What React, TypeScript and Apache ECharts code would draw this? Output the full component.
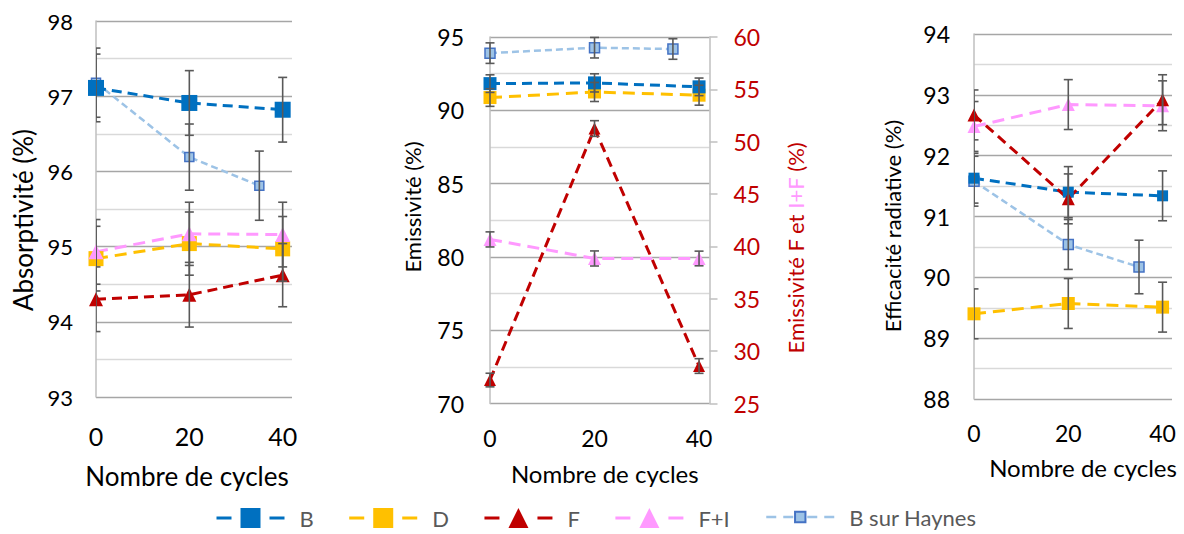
import React, { useEffect, useRef } from "react";
import * as echarts from "echarts";

const FONT = "Lato";

// Abscisses
const cycles = [0, 20, 40];
const cyclesHaynes = [0, 20, 35];
const xTickValues = [0, 20, 40];

// Absorptivité (%)
const absB = [97.11, 96.91, 96.82];
const absBErr = [0.45, 0.43, 0.43];
const absD = [94.84, 95.04, 94.97];
const absDErr = [0.43, 0.42, 0.43];
const absF = [94.3, 94.36, 94.62];
const absFErr = [0.43, 0.43, 0.42];
const absFI = [94.93, 95.17, 95.16];
const absFIErr = [0.43, 0.42, 0.43];
const absH = [97.18, 96.19, 95.81];
const absHErr = [0.46, 0.44, 0.46];

// Emissivité (%) - axe gauche
const emB = [91.82, 91.87, 91.6];
const emBErr = [0.6, 0.62, 0.6];
const emD = [90.87, 91.25, 91.03];
const emDErr = [0.6, 0.65, 0.68];
const emH = [93.9, 94.27, 94.18];
const emHErr = [0.7, 0.7, 0.7];
// Emissivité F et I+F (%) - axe droit
const emF = [27.24, 51.26, 28.58];
const emFErr = [0.65, 0.75, 0.7];
const emFI = [40.67, 38.85, 38.85];
const emFIErr = [0.72, 0.72, 0.7];

// Efficacité radiative (%)
const efB = [91.63, 91.4, 91.34];
const efBErr = [0.41, 0.42, 0.41];
const efD = [89.4, 89.57, 89.51];
const efDErr = [0.41, 0.41, 0.41];
const efF = [92.67, 91.29, 92.92];
const efFErr = [0.41, 0.41, 0.41];
const efFI = [92.48, 92.84, 92.82];
const efFIErr = [0.41, 0.41, 0.41];
const efH = [91.58, 90.54, 90.17];
const efHErr = [0.41, 0.41, 0.44];

const C_B = "#0070C0";
const C_D = "#FFC000";
const C_F = "#C00000";
const C_FI = "#FF99FF";
const C_H = "#9DC3E6";
const C_HB = "#4472C4";
const C_ERR = "#595959";

type Style = {
  symbol: string;
  color: string;
  width: number;
  dash: number[];
  border?: string;
};

const STYLES: Record<string, Style> = {
  B: { symbol: "rect", color: C_B, width: 3, dash: [10, 6] },
  D: { symbol: "rect", color: C_D, width: 3, dash: [12, 7] },
  F: { symbol: "triangle", color: C_F, width: 3, dash: [10, 6] },
  "F+I": { symbol: "triangle", color: C_FI, width: 3, dash: [12, 7] },
  "B sur Haynes": { symbol: "rect", color: C_H, width: 2.5, dash: [7, 4], border: C_HB },
};

function lineSeries(
  name: string,
  xs: number[],
  ys: number[],
  xAxisIndex: number,
  yAxisIndex: number,
  size: number
) {
  const s = STYLES[name];
  return {
    type: "line",
    name,
    xAxisIndex,
    yAxisIndex,
    data: xs.map((x, i) => [x, ys[i]]),
    symbol: s.symbol,
    symbolSize: size,
    showSymbol: true,
    clip: false,
    z: 3,
    lineStyle: { color: s.color, width: s.width, type: s.dash },
    itemStyle: s.border
      ? { color: s.color, borderColor: s.border, borderWidth: 1.5 }
      : { color: s.color },
    emphasis: { disabled: true },
  };
}

function errorSeries(
  xs: number[],
  ys: number[],
  errs: number[],
  xAxisIndex: number,
  yAxisIndex: number,
  clip: boolean
) {
  return {
    type: "custom",
    xAxisIndex,
    yAxisIndex,
    clip,
    z: 5,
    silent: true,
    data: xs.map((x, i) => [x, ys[i] - errs[i], ys[i] + errs[i]]),
    encode: { x: 0, y: [1, 2] },
    renderItem: (params: any, api: any) => {
      const x = api.value(0);
      const lo = api.coord([x, api.value(1)]);
      const hi = api.coord([x, api.value(2)]);
      const w = 4.5;
      const st = { stroke: C_ERR, lineWidth: 1.6 };
      return {
        type: "group",
        children: [
          { type: "line", shape: { x1: lo[0], y1: lo[1], x2: hi[0], y2: hi[1] }, style: st },
          { type: "line", shape: { x1: lo[0] - w, y1: lo[1], x2: lo[0] + w, y2: lo[1] }, style: st },
          { type: "line", shape: { x1: hi[0] - w, y1: hi[1], x2: hi[0] + w, y2: hi[1] }, style: st },
        ],
      };
    },
  };
}

function xAxis(gridIndex: number, fontSize: number, margin: number, nameFont: number, nameGap: number, pad: number[]) {
  return {
    type: "value",
    gridIndex,
    min: 0,
    max: 42,
    interval: 20,
    axisLine: { show: false },
    axisTick: { show: false },
    splitLine: { show: false },
    axisLabel: {
      fontSize,
      color: "#000",
      fontFamily: FONT,
      margin,
      formatter: (v: number) => (xTickValues.includes(v) ? String(v) : ""),
    },
    name: "Nombre de cycles",
    nameLocation: "middle",
    nameGap,
    nameTextStyle: { fontSize: nameFont, color: "#000", fontFamily: FONT, padding: pad },
  };
}

function yAxis(gridIndex: number, min: number, max: number, interval: number, fontSize: number, margin: number) {
  return {
    type: "value",
    gridIndex,
    min,
    max,
    interval,
    position: "left",
    axisLine: { show: true, lineStyle: { color: "#BFBFBF", width: 1.5 } },
    axisTick: { show: false },
    axisLabel: { fontSize, color: "#000", fontFamily: FONT, margin },
    splitLine: { show: true, lineStyle: { color: "#A6A6A6", width: 1.3 } },
    minorTick: { show: false, splitNumber: 2 },
    minorSplitLine: { show: true, lineStyle: { color: "#D9D9D9", width: 1.3 } },
  };
}

function buildOption() {
  return {
    animation: false,
    backgroundColor: "#fff",
    grid: [
      { left: 96, top: 21, width: 196, height: 376, outerBoundsMode: "none" },
      { left: 490, top: 37, width: 219.5, height: 366.5, outerBoundsMode: "none" },
      { left: 974, top: 34, width: 198, height: 365, outerBoundsMode: "none" },
    ],
    xAxis: [
      xAxis(0, 25, 26, 26, 66, [0, 14, 0, 0]),
      xAxis(1, 23, 23, 24, 58, [0, 0, 0, 10]),
      xAxis(2, 23, 22, 24, 56, [0, 0, 0, 20]),
    ],
    yAxis: [
      yAxis(0, 93, 98, 1, 22, 23),
      yAxis(1, 70, 95, 5, 23, 26),
      {
        type: "value",
        gridIndex: 1,
        min: 25,
        max: 60,
        interval: 5,
        position: "right",
        axisLine: { show: true, lineStyle: { color: "#BFBFBF", width: 1.5 } },
        axisTick: { show: true, length: 8, inside: false, lineStyle: { color: "#BFBFBF", width: 1.5 } },
        axisLabel: { fontSize: 23, color: C_F, fontFamily: FONT, margin: 24 },
        splitLine: { show: false },
      },
      yAxis(2, 88, 94, 1, 23, 24),
    ],
    legend: [
      {
        top: 507,
        left: 215,
        padding: 0,
        itemWidth: 68,
        itemHeight: 25,
        itemGap: 34,
        selectedMode: false,
        textStyle: { fontSize: 22, color: "#595959", fontFamily: FONT, padding: [0, 0, 0, 10] },
        lineStyle: { type: [15, 38], width: 3 },
        data: ["B", "D", "F", "F+I"],
      },
      {
        top: 506,
        left: 765,
        padding: 0,
        itemWidth: 68,
        itemHeight: 13,
        selectedMode: false,
        textStyle: { fontSize: 22, color: "#595959", fontFamily: FONT, padding: [0, 0, 0, 10] },
        lineStyle: { type: [10, 7, 10, 14, 10, 7, 10], width: 2.5 },
        data: ["B sur Haynes"],
      },
    ],
    graphic: [
      {
        type: "text",
        x: 23,
        y: 220,
        rotation: Math.PI / 2,
        style: { text: "Absorptivité (%)", fontSize: 26, fontFamily: FONT, fill: "#000", align: "center", verticalAlign: "middle" },
      },
      {
        type: "text",
        x: 412,
        y: 207,
        rotation: Math.PI / 2,
        style: { text: "Emissivité (%)", fontSize: 22, fontFamily: FONT, fill: "#000", align: "center", verticalAlign: "middle" },
      },
      {
        type: "text",
        x: 795,
        y: 248,
        rotation: Math.PI / 2,
        style: {
          text: "{r|Emissivité F et }{p|I+F}{r| (%)}",
          align: "center",
          verticalAlign: "middle",
          rich: {
            r: { fill: C_F, fontSize: 22, fontFamily: FONT },
            p: { fill: C_FI, fontSize: 22, fontFamily: FONT },
          },
        },
      },
      {
        type: "text",
        x: 892,
        y: 226,
        rotation: Math.PI / 2,
        style: { text: "Efficacité radiative (%)", fontSize: 22, fontFamily: FONT, fill: "#000", align: "center", verticalAlign: "middle" },
      },
    ],
    series: [
      // Panneau 1 : absorptivité
      lineSeries("B sur Haynes", cyclesHaynes, absH, 0, 0, 9),
      lineSeries("F", cycles, absF, 0, 0, 14),
      lineSeries("D", cycles, absD, 0, 0, 15),
      lineSeries("F+I", cycles, absFI, 0, 0, 15),
      lineSeries("B", cycles, absB, 0, 0, 16),
      errorSeries(cyclesHaynes, absH, absHErr, 0, 0, true),
      errorSeries(cycles, absF, absFErr, 0, 0, true),
      errorSeries(cycles, absD, absDErr, 0, 0, true),
      errorSeries(cycles, absFI, absFIErr, 0, 0, true),
      errorSeries(cycles, absB, absBErr, 0, 0, true),
      // Panneau 2 : émissivité
      lineSeries("B sur Haynes", cyclesHaynes, emH, 1, 1, 10),
      lineSeries("D", cycles, emD, 1, 1, 13),
      lineSeries("B", cycles, emB, 1, 1, 13),
      lineSeries("F", cycles, emF, 1, 2, 12),
      lineSeries("F+I", cycles, emFI, 1, 2, 13),
      errorSeries(cyclesHaynes, emH, emHErr, 1, 1, false),
      errorSeries(cycles, emD, emDErr, 1, 1, false),
      errorSeries(cycles, emB, emBErr, 1, 1, false),
      errorSeries(cycles, emF, emFErr, 1, 2, false),
      errorSeries(cycles, emFI, emFIErr, 1, 2, false),
      // Panneau 3 : efficacité radiative
      lineSeries("B sur Haynes", cyclesHaynes, efH, 2, 3, 10),
      lineSeries("D", cycles, efD, 2, 3, 13),
      lineSeries("B", cycles, efB, 2, 3, 11),
      lineSeries("F+I", cycles, efFI, 2, 3, 13),
      lineSeries("F", cycles, efF, 2, 3, 13),
      errorSeries(cyclesHaynes, efH, efHErr, 2, 3, true),
      errorSeries(cycles, efD, efDErr, 2, 3, true),
      errorSeries(cycles, efB, efBErr, 2, 3, true),
      errorSeries(cycles, efFI, efFIErr, 2, 3, true),
      errorSeries(cycles, efF, efFErr, 2, 3, true),
    ],
  };
}

export default function App() {
  const ref = useRef<HTMLDivElement>(null);
  useEffect(() => {
    if (!ref.current) return;
    const chart = echarts.init(ref.current, null, { renderer: "svg" });
    chart.setOption(buildOption() as any);
    return () => chart.dispose();
  }, []);
  return (
    <div
      ref={ref}
      style={{ position: "fixed", left: 0, top: 0, width: 1184, height: 534, background: "#fff" }}
    />
  );
}
